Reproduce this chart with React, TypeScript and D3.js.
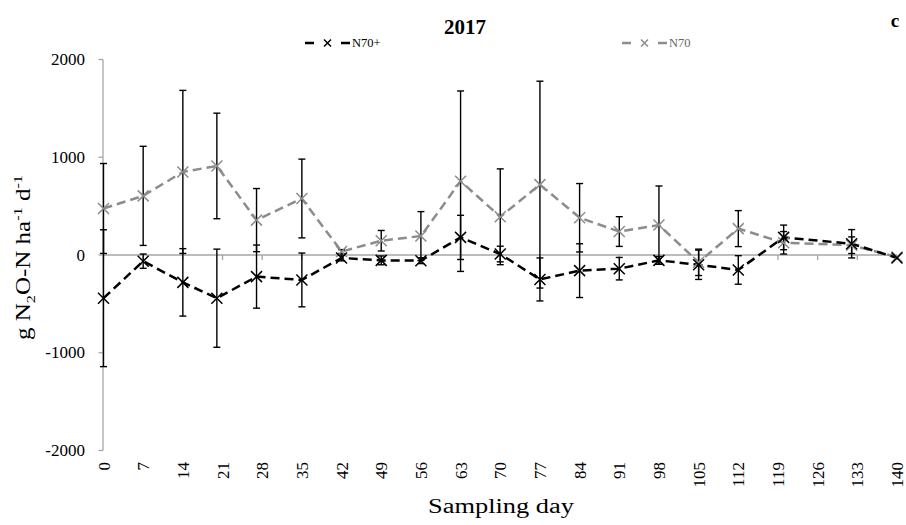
import React from "react";
import * as d3 from "d3";

// Sampling days and daily N2O-N flux (g N2O-N ha-1 d-1) with standard errors
const days = [0, 7, 14, 20, 27, 35, 42, 49, 56, 63, 70, 77, 84, 91, 98, 105, 112, 120, 132, 140];
const n70Plus = [-442, -63, -280, -442, -221, -255, -30, -55, -58, 180, 10, -250, -160, -140, -55, -100, -153, 180, 115, -30];
const n70PlusErr = [700, 73, 345, 502, 323, 275, 30, 45, 30, 226, 80, 220, 275, 115, 40, 150, 146, 126, 145, 0];
const n70 = [476, 605, 850, 911, 357, 578, 35, 146, 194, 755, 391, 720, 381, 240, 306, -75, 270, 125, 100, -20];
const n70Err = [460, 507, 834, 540, 323, 403, 20, 105, 250, 923, 490, 1058, 350, 152, 400, 135, 184, 115, 85, 0];
const xTicks = d3.range(0, 141, 7);
const yTicks = [-2000, -1000, 0, 1000, 2000];

const W = 906;
const H = 525;
const FONT = "'Liberation Serif', 'Times New Roman', serif";
const AXIS = "#a6a6a6";

const x = d3.scaleLinear().domain([0, 140]).range([103.5, 897]);
const y = d3.scaleLinear().domain([-2000, 2000]).range([450.5, 59.5]);

type Series = { name: string; values: number[]; errs: number[]; color: string };
const series: Series[] = [
  { name: "N70+", values: n70Plus, errs: n70PlusErr, color: "#000000" },
  { name: "N70", values: n70, errs: n70Err, color: "#8c8c8c" },
];

const Cross = ({ cx, cy, color, r = 5.5 }: { cx: number; cy: number; color: string; r?: number }) => (
  <path
    d={`M${cx - r},${cy - r}L${cx + r},${cy + r}M${cx - r},${cy + r}L${cx + r},${cy - r}`}
    stroke={color}
    strokeWidth={1.5}
    fill="none"
  />
);

export default function App() {
  const line = d3
    .line<number>()
    .x((_, i) => x(days[i]))
    .y((v) => y(v));

  return (
    <svg width={W} height={H} style={{ display: "block", position: "absolute", left: 0, top: 0, background: "#fff" }}>
      {/* title and panel letter */}
      <text x={465} y={34} textAnchor="middle" fontFamily={FONT} fontWeight="bold" fontSize={21}>
        2017
      </text>
      <text x={895} y={27} textAnchor="middle" fontFamily={FONT} fontWeight="bold" fontSize={19}>
        c
      </text>

      {/* legend */}
      {series.map((s, i) => {
        const x0 = i === 0 ? 305 : 622;
        return (
          <g key={s.name}>
            <line x1={x0} x2={x0 + 9} y1={43} y2={43} stroke={s.color} strokeWidth={2.5} />
            <line x1={x0 + 36} x2={x0 + 45} y1={43} y2={43} stroke={s.color} strokeWidth={2.5} />
            <Cross cx={x0 + 22.5} cy={43} color={s.color} r={3.5} />
            <text x={x0 + 47} y={47} fontFamily={FONT} fontSize={12.5} fill={i === 0 ? "#000" : "#666"}>
              {s.name}
            </text>
          </g>
        );
      })}

      {/* y axis */}
      <line x1={x(0) - 0.5} x2={x(0) - 0.5} y1={y(2000)} y2={y(-2000)} stroke={AXIS} strokeWidth={1.3} />
      {yTicks.map((t) => (
        <g key={t}>
          <line x1={x(0) - 5} x2={x(0) - 0.5} y1={y(t)} y2={y(t)} stroke={AXIS} strokeWidth={1.3} />
          <text x={85} y={y(t) + 5.5} textAnchor="end" fontFamily={FONT} fontSize={17}>
            {t}
          </text>
        </g>
      ))}

      {/* zero line with day ticks */}
      <line x1={x(0)} x2={x(140)} y1={y(0)} y2={y(0)} stroke={AXIS} strokeWidth={1.3} />
      {xTicks.map((t) => (
        <line key={t} x1={x(t)} x2={x(t)} y1={y(0)} y2={y(0) + 5} stroke={AXIS} strokeWidth={1.3} />
      ))}

      {/* x tick labels */}
      {xTicks.map((t) => (
        <text
          key={t}
          transform={`translate(${x(t) + 6},462) rotate(-90)`}
          textAnchor="end"
          fontFamily={FONT}
          fontSize={17}
        >
          {t}
        </text>
      ))}

      {/* axis titles */}
      <text
        x={428}
        y={513}
        fontFamily={FONT}
        fontSize={20}
        textLength={146}
        lengthAdjust="spacingAndGlyphs"
      >
        Sampling day
      </text>
      <text transform="translate(30,340) rotate(-90)" fontFamily={FONT} fontSize={20} textLength={165} lengthAdjust="spacingAndGlyphs">
        g N<tspan fontSize={13} dy={5}>2</tspan>
        <tspan dy={-5}>O-N ha</tspan>
        <tspan fontSize={13} dy={-8}>-1</tspan>
        <tspan dy={8}> d</tspan>
        <tspan fontSize={13} dy={-8}>-1</tspan>
      </text>

      {/* dashed series lines */}
      {series
        .slice()
        .reverse()
        .map((s) => (
          <path
            key={s.name}
            d={line(s.values) || ""}
            fill="none"
            stroke={s.color}
            strokeWidth={2.5}
            strokeDasharray="9,5"
          />
        ))}

      {/* error bars */}
      {series.map((s) =>
        s.values.map((v, i) =>
          s.errs[i] > 0 ? (
            <g key={`${s.name}-e${i}`} stroke="#000" strokeWidth={1.4}>
              <line x1={x(days[i])} x2={x(days[i])} y1={y(v + s.errs[i])} y2={y(v - s.errs[i])} />
              <line x1={x(days[i]) - 3.5} x2={x(days[i]) + 3.5} y1={y(v + s.errs[i])} y2={y(v + s.errs[i])} />
              <line x1={x(days[i]) - 3.5} x2={x(days[i]) + 3.5} y1={y(v - s.errs[i])} y2={y(v - s.errs[i])} />
            </g>
          ) : null
        )
      )}

      {/* markers */}
      {series
        .slice()
        .reverse()
        .map((s) =>
          s.values.map((v, i) => <Cross key={`${s.name}-m${i}`} cx={x(days[i])} cy={y(v)} color={s.color} />)
        )}
    </svg>
  );
}
